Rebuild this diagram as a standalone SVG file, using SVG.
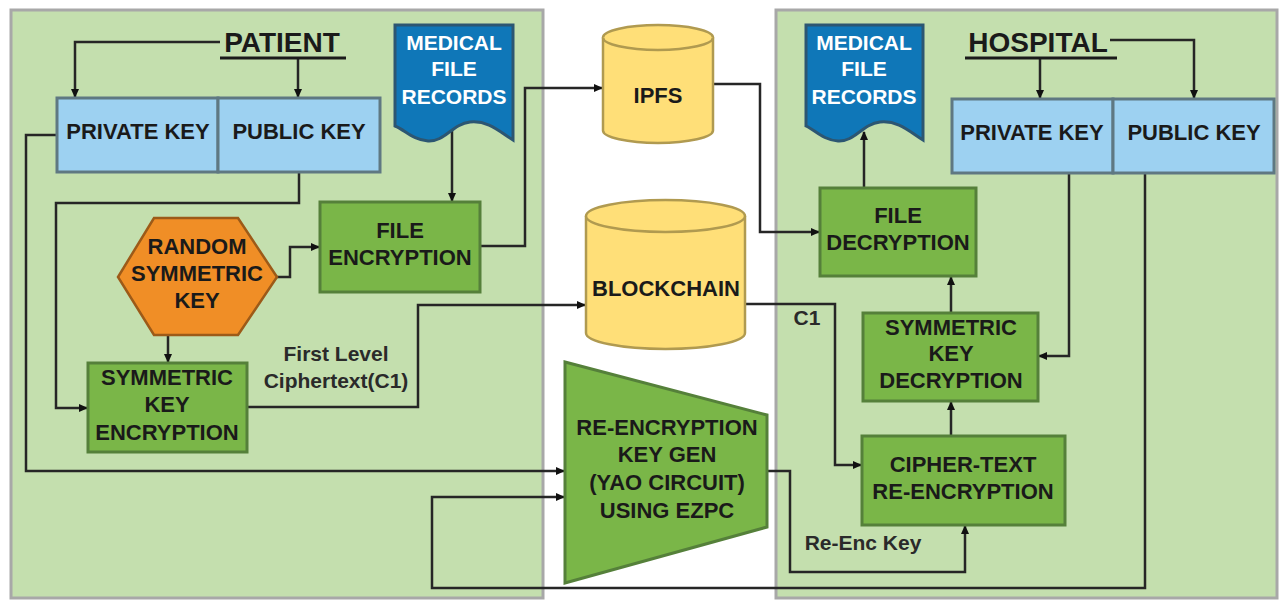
<svg xmlns="http://www.w3.org/2000/svg" width="1279" height="600" viewBox="0 0 1279 600">
<style>
.panel{fill:#c4dfae;stroke:#a8a8a8;stroke-width:3}
.g{fill:#7ab648;stroke:#55803a;stroke-width:3}
.k{fill:#9dd1f1;stroke:#5f7882;stroke-width:3}
.doc{fill:#0f77b8;stroke:#2c5672;stroke-width:3}
.cyl{fill:#ffdf78;stroke:#b09a50;stroke-width:2.5}
.hex{fill:#f08e26;stroke:#9c5a18;stroke-width:2.5}
text{font-family:"Liberation Sans",Arial,sans-serif;font-weight:bold;font-size:22px;fill:#1a1a1a;text-anchor:middle}
.w{fill:#ffffff;font-size:21px}
.h{font-size:28px}
.lab{fill:#2a2a2a;font-size:21px}
.c{fill:none;stroke:#262626;stroke-width:2.5}
.ul{stroke:#1a1a1a;stroke-width:3}
</style>
<defs>
<marker id="a" markerWidth="9" markerHeight="9" refX="8" refY="4.5" orient="auto" markerUnits="userSpaceOnUse"><path d="M0,0.5 L9,4.5 L0,8.5 Z" fill="#111"/></marker>
</defs>
<g id="patient-panel"><rect class="panel" x="11" y="10" width="532" height="588"/></g>
<g id="hospital-panel"><rect class="panel" x="776" y="10" width="501" height="588"/></g>

<g id="connectors">
<path class="c" d="M220,42 H75 V97" marker-end="url(#a)"/>
<path class="c" d="M298,58 V97" marker-end="url(#a)"/>
<path class="c" d="M57,135 H26 V471 H564" marker-end="url(#a)"/>
<path class="c" d="M299,172 V203 H56 V408 H87" marker-end="url(#a)"/>
<path class="c" d="M452,130 V201" marker-end="url(#a)"/>
<path class="c" d="M480,246 H525 V88 H602" marker-end="url(#a)"/>
<path class="c" d="M277,277 H290 V247 H319" marker-end="url(#a)"/>
<path class="c" d="M168,335 V362" marker-end="url(#a)"/>
<path class="c" d="M247,407 H418 V305 H585" marker-end="url(#a)"/>
<path class="c" d="M713,84 H760 V232 H819" marker-end="url(#a)"/>
<path class="c" d="M745,304 H835 V465 H861" marker-end="url(#a)"/>
<path class="c" d="M767,471 H790 V572 H965 V526" marker-end="url(#a)"/>
<path class="c" d="M1145,173 V588 H432 V497 H564" marker-end="url(#a)"/>
<path class="c" d="M1040,58 V98" marker-end="url(#a)"/>
<path class="c" d="M1110,40 H1194 V98" marker-end="url(#a)"/>
<path class="c" d="M864,188 V132" marker-end="url(#a)"/>
<path class="c" d="M1069,173 V356 H1039" marker-end="url(#a)"/>
<path class="c" d="M951,313 V277" marker-end="url(#a)"/>
<path class="c" d="M951,436 V402" marker-end="url(#a)"/>
</g>

<g id="patient-title">
<text class="h" x="282" y="52">PATIENT</text>
<line class="ul" x1="220" y1="58" x2="346" y2="58"/>
</g>
<g id="patient-keys">
<rect class="k" x="57" y="98" width="161" height="74"/>
<rect class="k" x="218" y="98" width="162" height="74"/>
<text x="138" y="139">PRIVATE KEY</text>
<text x="299" y="139">PUBLIC KEY</text>
</g>
<g id="patient-records">
<path class="doc" d="M395,25 H513 V140 C500,132 488,120 470,122 C452,124 445,142 428,141 C413,140 405,130 395,126 Z"/>
<text class="w" x="454" y="50">MEDICAL</text>
<text class="w" x="454" y="76">FILE</text>
<text class="w" x="454" y="104">RECORDS</text>
</g>
<g id="file-encryption">
<rect class="g" x="320" y="202" width="160" height="90"/>
<text x="400" y="238">FILE</text>
<text x="400" y="265">ENCRYPTION</text>
</g>
<g id="random-key">
<polygon class="hex" points="154,218 238,218 277,277 238,335 154,335 118,277"/>
<text x="197" y="254">RANDOM</text>
<text x="197" y="281">SYMMETRIC</text>
<text x="197" y="308">KEY</text>
</g>
<g id="symmetric-key-encryption">
<rect class="g" x="88" y="363" width="159" height="89"/>
<text x="167" y="385">SYMMETRIC</text>
<text x="167" y="412">KEY</text>
<text x="167" y="440">ENCRYPTION</text>
</g>
<g id="c1-label">
<text class="lab" x="336" y="361">First Level</text>
<text class="lab" x="336" y="388">Ciphertext(C1)</text>
</g>
<g id="ipfs">
<path class="cyl" d="M603,37.5 A55,12.5 0 0 1 713,37.5 V130.5 A55,12.5 0 0 1 603,130.5 Z"/>
<path class="cyl" fill="none" d="M603,37.5 A55,12.5 0 0 0 713,37.5"/>
<text x="658" y="103">IPFS</text>
</g>
<g id="blockchain">
<path class="cyl" d="M586,216 A79.5,16 0 0 1 745,216 V333 A79.5,16 0 0 1 586,333 Z"/>
<path class="cyl" fill="none" d="M586,216 A79.5,16 0 0 0 745,216"/>
<text x="666" y="296">BLOCKCHAIN</text>
</g>
<g id="re-encryption-keygen">
<polygon class="g" points="565,362 767,415 767,527 565,583"/>
<text x="667" y="435">RE-ENCRYPTION</text>
<text x="667" y="462">KEY GEN</text>
<text x="667" y="490">(YAO CIRCUIT)</text>
<text x="667" y="518">USING EZPC</text>
</g>
<g id="edge-labels">
<text class="lab" x="807" y="325">C1</text>
<text class="lab" x="863" y="550">Re-Enc Key</text>
</g>
<g id="hospital-title">
<text class="h" x="1038" y="52">HOSPITAL</text>
<line class="ul" x1="965" y1="58" x2="1117" y2="58"/>
</g>
<g id="hospital-keys">
<rect class="k" x="952" y="99" width="161" height="74"/>
<rect class="k" x="1113" y="99" width="161" height="74"/>
<text x="1032" y="140">PRIVATE KEY</text>
<text x="1194" y="140">PUBLIC KEY</text>
</g>
<g id="hospital-records">
<path class="doc" d="M806,25 H923 V140 C910,132 898,120 880,122 C862,124 855,142 838,141 C823,140 815,130 806,126 Z"/>
<text class="w" x="864" y="50">MEDICAL</text>
<text class="w" x="864" y="76">FILE</text>
<text class="w" x="864" y="104">RECORDS</text>
</g>
<g id="file-decryption">
<rect class="g" x="820" y="188" width="156" height="88"/>
<text x="898" y="223">FILE</text>
<text x="898" y="250">DECRYPTION</text>
</g>
<g id="symmetric-key-decryption">
<rect class="g" x="863" y="313" width="175" height="88"/>
<text x="951" y="335">SYMMETRIC</text>
<text x="951" y="361">KEY</text>
<text x="951" y="388">DECRYPTION</text>
</g>
<g id="ciphertext-reencryption">
<rect class="g" x="862" y="436" width="203" height="89"/>
<text x="963" y="472">CIPHER-TEXT</text>
<text x="963" y="499">RE-ENCRYPTION</text>
</g>
</svg>
